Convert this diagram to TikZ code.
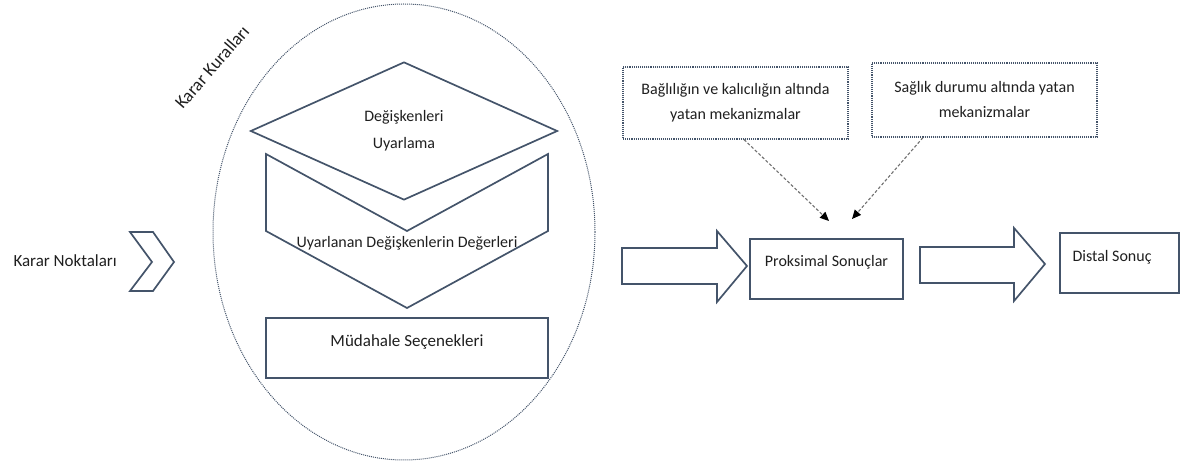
\documentclass[tikz,border=0pt]{standalone}
\usepackage{fontspec}
\setmainfont{Carlito}
\usepackage{tikz}
\usetikzlibrary{shapes.geometric, arrows.meta, positioning}
\definecolor{navyline}{HTML}{44546A}
\definecolor{txtgray}{HTML}{1F1F1F}
\definecolor{dashgray}{HTML}{6F6F6F}

\begin{document}
\begin{tikzpicture}[
  x=1pt, y=-1pt,
  font=\fontsize{16}{25}\selectfont, text=txtgray,
  shp/.style={draw=navyline, line width=1.7pt, line join=miter},
  box/.style={rectangle, draw=navyline, line width=1.7pt, inner sep=0pt,
              minimum height=60pt},
  mech/.style={rectangle, draw=navyline, line width=1.1pt, densely dotted,
               minimum width=225pt, align=center, inner sep=0pt},
  darr/.style={-{Triangle[length=9pt, width=8pt, color=black]}, dashgray,
               line width=1.1pt, dash pattern=on 3pt off 2pt}
]
\useasboundingbox (0,0) rectangle (1181,462);

% left side
\node[anchor=west, font=\fontsize{17}{20}\selectfont] (points) at (10,261) {Karar Noktaları};
\draw[shp] (130,232) -- (153,232) -- (174,262) -- (153,291) -- (130,291) -- (152,262) -- cycle;

% decision rules
\node[ellipse, draw=navyline, line width=1pt, densely dotted,
      minimum width=382pt, minimum height=456pt] (rules) at (404,232) {};
\node[rotate=49, font=\fontsize{18}{20}\selectfont] (ruleslbl) at (212,67) {Karar Kuralları};
\node[diamond, shp, minimum width=307pt, minimum height=138pt, inner sep=0pt,
      aspect=2.2, align=center, font=\fontsize{16}{27}\selectfont] (adapt) at (404,131) {Değişkenleri\\Uyarlama};
\draw[shp] (266,154) -- (407,231) -- (548,154) -- (548,231) -- (407,308) -- (266,231) -- cycle;
\node (values) at (407,243) {Uyarlanan Değişkenlerin Değerleri};
\node[box, minimum width=282pt, text height=12pt, text depth=14pt,
      font=\fontsize{17}{20}\selectfont] (options) at (407,348) {Müdahale Seçenekleri};

% outcomes
\draw[shp] (622,248) -- (717,248) -- (717,231) -- (747,266) -- (717,302) -- (717,284) -- (622,284) -- cycle;
\node[box, minimum width=153pt, text height=12pt, text depth=16pt] (prox) at (826.5,269) {Proksimal Sonuçlar};
\draw[shp] (920,247) -- (1014,247) -- (1014,228) -- (1045,264) -- (1014,301) -- (1014,283) -- (920,283) -- cycle;
\node[box, minimum width=119pt, text width=94pt, align=flush left,
      text height=12pt, text depth=14pt] (distal) at (1119.5,263) {Distal Sonuç};

% mechanisms
\node[mech, minimum height=72pt] (mech1) at (735.5,103) {Bağlılığın ve kalıcılığın altında\\yatan mekanizmalar};
\node[mech, minimum height=74pt] (mech2) at (984.5,100) {Sağlık durumu altında yatan\\mekanizmalar};
\coordinate (tip1) at (829,221);
\coordinate (tip2) at (852,219);
\draw[darr] ([xshift=8.5pt]mech1.south) -- (tip1);
\draw[darr] ([xshift=-61.5pt]mech2.south) -- (tip2);
\end{tikzpicture}
\end{document}
